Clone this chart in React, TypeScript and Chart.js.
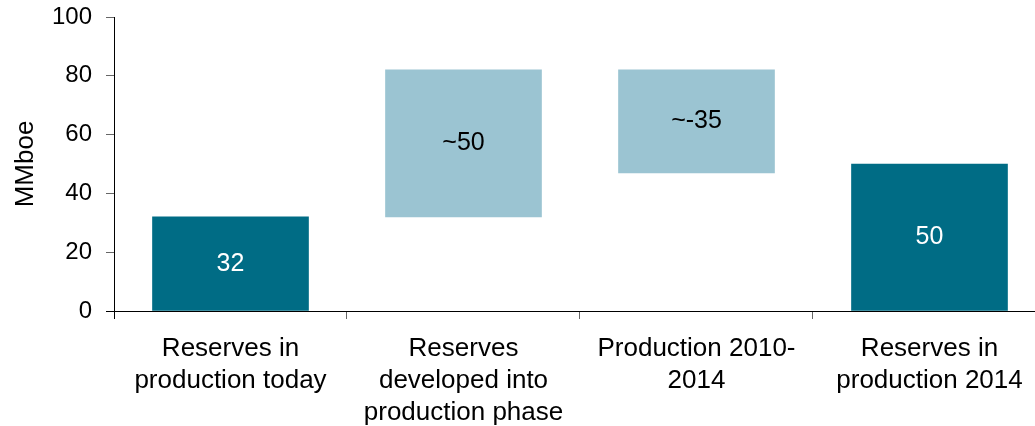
import React, { useEffect, useRef } from "react";
import { Chart, registerables } from "chart.js";

Chart.register(...registerables);

const categories: string[][] = [
  ["Reserves in", "production today"],
  ["Reserves", "developed into", "production phase"],
  ["Production 2010-", "2014"],
  ["Reserves in", "production 2014"],
];
const barStart = [0, 32, 47, 0];
const barEnd = [32, 82, 82, 50];
const valueLabels = ["32", "~50", "~-35", "50"];
const barColors = ["#006C85", "#9BC4D2", "#9BC4D2", "#006C85"];
const labelColors = ["#FFFFFF", "#000000", "#000000", "#FFFFFF"];
const yTicks = [0, 20, 40, 60, 80, 100];

const FONT = "'Liberation Sans', Arial, sans-serif";

const dataLabelPlugin = {
  id: "dataLabels",
  afterDatasetsDraw(chart: any) {
    const ctx = chart.ctx;
    const meta = chart.getDatasetMeta(0);
    ctx.save();
    ctx.font = `25px ${FONT}`;
    ctx.textAlign = "center";
    ctx.textBaseline = "middle";
    meta.data.forEach((el: any, i: number) => {
      const p = el.getCenterPoint();
      ctx.fillStyle = labelColors[i];
      ctx.fillText(valueLabels[i], p.x, p.y);
    });
    ctx.restore();
  },
};

export default function App() {
  const ref = useRef<HTMLCanvasElement | null>(null);

  useEffect(() => {
    if (!ref.current) return;
    const chart = new Chart(ref.current, {
      type: "bar",
      data: {
        datasets: [
          {
            data: categories.map((_, i) => ({ x: i, y: [barStart[i], barEnd[i]] })) as any,
            backgroundColor: barColors,
            borderWidth: 0,
            barThickness: 156,
          },
        ],
      },
      options: {
        animation: false,
        responsive: false,
        layout: { padding: { top: 17, right: 0, left: 0, bottom: 0 } },
        plugins: {
          legend: { display: false },
          tooltip: { enabled: false },
        },
        scales: {
          x: {
            type: "linear",
            offset: false,
            min: -0.5,
            max: 3.4528,
            afterBuildTicks: (scale: any) => {
              scale.ticks = [-0.5, 0, 0.5, 1, 1.5, 2, 2.5, 3].map((v) => ({ value: v }));
            },
            afterFit: (scale: any) => {
              scale.height = 115;
              scale.paddingLeft = 0;
              scale.paddingRight = 0;
            },
            grid: {
              offset: false,
              drawOnChartArea: false,
              drawTicks: true,
              tickLength: 8,
              color: (c: any) => {
                const v = c.tick ? c.tick.value : 0;
                if (Number.isInteger(v)) return "rgba(0,0,0,0)";
                return v === -0.5 ? "#000000" : "#666666";
              },
            },
            border: { display: true, color: "#000000", width: 1 },
            ticks: {
              autoSkip: false,
              maxRotation: 0,
              minRotation: 0,
              padding: 14,
              color: "#000000",
              font: { family: FONT, size: 26, lineHeight: 1.23 },
              callback: (v: any) => (Number.isInteger(v) ? categories[v] : ""),
            },
          },
          y: {
            min: 0,
            max: 100,
            afterBuildTicks: (scale: any) => {
              scale.ticks = yTicks.map((v) => ({ value: v }));
            },
            afterFit: (scale: any) => {
              scale.width = 114;
              scale.paddingTop = 0;
              scale.paddingBottom = 0;
            },
            grid: {
              drawOnChartArea: false,
              drawTicks: true,
              tickLength: 8,
              color: (c: any) => (c.tick && c.tick.value === 0 ? "#000000" : "#666666"),
            },
            border: { display: true, color: "#000000", width: 1 },
            ticks: {
              padding: 14,
              color: "#000000",
              font: { family: FONT, size: 24 },
            },
            title: {
              display: true,
              text: "MMboe",
              color: "#000000",
              font: { family: FONT, size: 26 },
              padding: { top: 10, bottom: 0 },
            },
          },
        },
      },
      plugins: [dataLabelPlugin],
    });
    return () => chart.destroy();
  }, []);

  return (
    <div style={{ position: "absolute", left: 0, top: 0, width: 1035, height: 426 }}>
      <canvas ref={ref} width={1035} height={426} style={{ display: "block" }} />
    </div>
  );
}
